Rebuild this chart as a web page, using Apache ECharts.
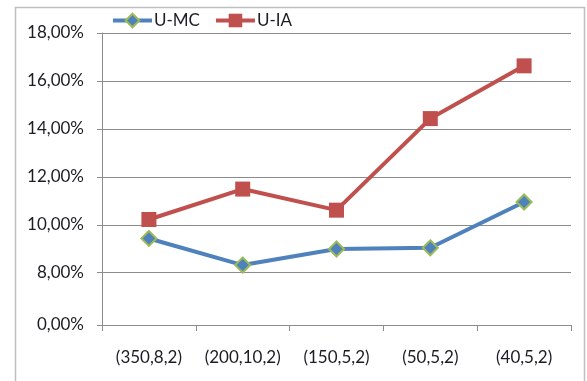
<!DOCTYPE html>
<html>
<head>
<meta charset="utf-8">
<script src="https://cdn.jsdelivr.net/npm/echarts@6/dist/echarts.min.js"></script>
<style>
  html, body { margin: 0; padding: 0; background: #fff; }
  #chart { width: 587px; height: 381px; }
</style>
</head>
<body>
<div id="chart"></div>
<script>
// Parameter sets (categories along the x axis)
const categories = ['(350,8,2)', '(200,10,2)', '(150,5,2)', '(50,5,2)', '(40,5,2)'];

// Error rates in percent
const seriesNames = ['U-MC', 'U-IA'];
const umcValues = [9.43, 8.32, 8.99, 9.04, 10.95];
const uiaValues = [10.22, 11.49, 10.61, 14.43, 16.63];

// The value axis is broken: the lowest tick stands for 0 %, the rest run 8 % to 18 %
const axisBreakValue = 5.82;
const tickValues = [axisBreakValue, 8, 10, 12, 14, 16, 18];
const tickLabels = ['0,00%', '8,00%', '10,00%', '12,00%', '14,00%', '16,00%', '18,00%'];

const textColor = '#1c1c24';
const gridColor = '#8c8c8c';
const font = 'Lato, "Open Sans", sans-serif';
const fontSize = 17;

const chart = echarts.init(document.getElementById('chart'), null, { renderer: 'canvas' });

chart.setOption({
  animation: false,
  backgroundColor: '#ffffff',
  graphic: [{
    type: 'rect',
    silent: true,
    shape: { x: 15.5, y: 7.5, width: 569, height: 390 },
    style: { fill: 'none', stroke: '#bfbfbf', lineWidth: 1.5 }
  }],
  legend: {
    left: 111,
    top: 12,
    padding: 0,
    itemWidth: 39,
    itemHeight: 17,
    itemGap: 14,
    lineStyle: { width: 4 },
    textStyle: { fontFamily: font, fontSize: fontSize, color: textColor, padding: [0, 0, 0, -3] },
    data: seriesNames.map(name => ({ name: name, lineStyle: { width: 4 } }))
  },
  grid: { left: 102, top: 33, right: 16, bottom: 56, containLabel: false },
  xAxis: {
    type: 'category',
    data: categories,
    boundaryGap: true,
    axisLine: { lineStyle: { color: gridColor, width: 1 } },
    axisTick: { show: true, length: 6, lineStyle: { color: gridColor } },
    axisLabel: { fontFamily: font, fontSize: fontSize, color: textColor, margin: 24, interval: 0, hideOverlap: false },
    splitLine: { show: false }
  },
  yAxis: {
    type: 'value',
    min: axisBreakValue,
    max: 18,
    axisLine: { show: true, lineStyle: { color: gridColor, width: 1 } },
    axisTick: { show: true, length: 5, inside: false, customValues: tickValues, lineStyle: { color: gridColor } },
    axisLabel: {
      fontFamily: font, fontSize: fontSize, color: textColor, margin: 18,
      customValues: tickValues,
      formatter: function (v) {
        const i = tickValues.findIndex(t => Math.abs(t - v) < 1e-6);
        return i >= 0 ? tickLabels[i] : '';
      }
    },
    splitLine: { show: true, lineStyle: { color: gridColor, width: 1 } }
  },
  series: [
    {
      name: seriesNames[0],
      type: 'line',
      data: umcValues,
      symbol: 'diamond',
      symbolSize: 15,
      lineStyle: { color: '#4f81bd', width: 4 },
      itemStyle: { color: '#4f81bd', borderColor: '#9bbb59', borderWidth: 2 },
      z: 3
    },
    {
      name: seriesNames[1],
      type: 'line',
      data: uiaValues,
      symbol: 'rect',
      symbolSize: 15,
      lineStyle: { color: '#c0504d', width: 4 },
      itemStyle: { color: '#c0504d', borderWidth: 0 },
      z: 2
    }
  ]
});
</script>
</body>
</html>
